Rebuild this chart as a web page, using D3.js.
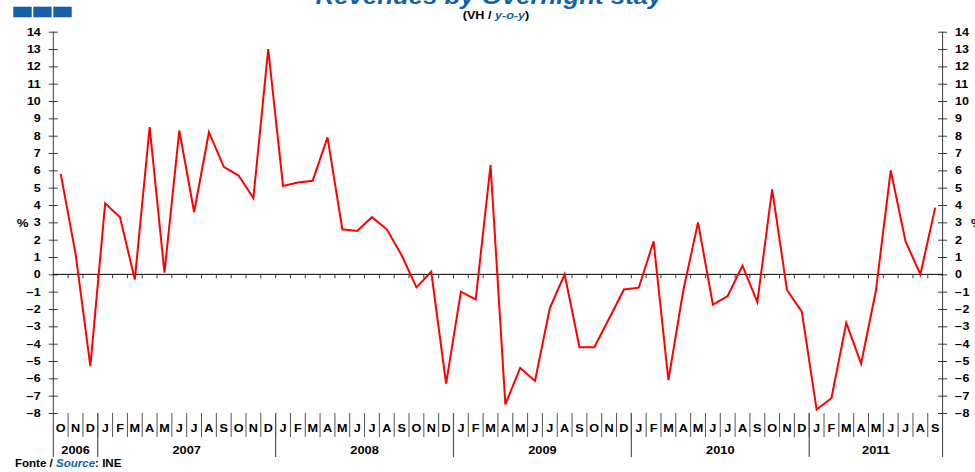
<!DOCTYPE html>
<html>
<head>
<meta charset="utf-8">
<script src="https://cdn.jsdelivr.net/npm/d3@7"></script>
<style>
  html, body { margin: 0; padding: 0; background: #fff; }
  svg { display: block; }
  text { font-family: "Liberation Sans", Arial, sans-serif; font-weight: bold; }
</style>
</head>
<body>
<svg id="chart" width="975" height="472"></svg>
<script>
// Monthly year-on-year change in revenue per overnight stay (%), Oct 2006 – Sep 2011
const monthLetters = [
  "O","N","D",
  "J","F","M","A","M","J","J","A","S","O","N","D",
  "J","F","M","A","M","J","J","A","S","O","N","D",
  "J","F","M","A","M","J","J","A","S","O","N","D",
  "J","F","M","A","M","J","J","A","S","O","N","D",
  "J","F","M","A","M","J","J","A","S"
];
const yearLabels = ["2006", "2007", "2008", "2009", "2010", "2011"];
const monthsPerYear = [3, 12, 12, 12, 12, 9];
const values = [
  5.8, 1.2, -5.3,
  4.1, 3.3, -0.3, 8.5, 0.1, 8.3, 3.6, 8.2, 6.2, 5.7, 4.4, 13.0,
  5.1, 5.3, 5.4, 7.9, 2.6, 2.5, 3.3, 2.6, 1.1, -0.75, 0.15, -6.3,
  -1.0, -1.45, 6.3, -7.5, -5.4, -6.15, -1.95, 0.0, -4.2, -4.2, -2.55, -0.87,
  -0.77, 1.9, -6.1, -0.95, 3.0, -1.75, -1.25, 0.5, -1.6, 4.9, -0.9, -2.15,
  -7.8, -7.15, -2.8, -5.15, -0.95, 6.0, 1.9, 0.0, 3.85
];
const yTicks = d3.range(-8, 15);

const svg = d3.select("#chart");
const blue = "#1560a8";
const axisColor = "#3a3a3a";

const plotLeft = 53.3, plotRight = 942.6, plotTop = 31.7, plotBottom = 413;
const idx = d3.range(values.length);
const x = d3.scaleBand().domain(idx).range([plotLeft, plotRight]).padding(0);
const y = d3.scaleLinear().domain([-8, 14]).range([plotBottom, plotTop]);
const bw = x.bandwidth();

// horizontally stretched text helper
function stext(g, tx, ty, str, size, sx, anchor) {
  return g.append("text")
    .attr("transform", `translate(${tx},${ty}) scale(${sx},1)`)
    .attr("text-anchor", anchor || "start")
    .attr("font-size", size)
    .text(str);
}

// corner badge
[13.3, 33.3, 53.3].forEach(bx => {
  svg.append("rect").attr("x", bx).attr("y", 6.7).attr("width", 18.4).attr("height", 10.6).attr("fill", blue);
});

// title and subtitle
stext(svg, 489, 3.5, "Revenues by Overnight stay", 21.5, 1.2, "middle")
  .attr("font-style", "italic").attr("fill", blue);
const sub = svg.append("text")
  .attr("transform", "translate(496,19) scale(1.2,1)")
  .attr("text-anchor", "middle").attr("font-size", 10.5);
sub.append("tspan").text("(VH / ");
sub.append("tspan").attr("fill", blue).attr("font-style", "italic").text("y-o-y");
sub.append("tspan").text(")");

// y axes
function styleAxis(g, side) {
  g.select(".domain").remove();
  g.selectAll(".tick line").attr("x1", -4.5).attr("x2", 4.5).attr("stroke", axisColor);
  g.selectAll(".tick text")
    .attr("x", null).attr("dy", null)
    .attr("font-size", 10).attr("fill", "#000")
    .attr("text-anchor", side === "left" ? "end" : "start")
    .attr("transform", side === "left" ? "translate(-12.5,3.6) scale(1.25,1)" : "translate(12.5,3.6) scale(1.25,1)");
}
const gl = svg.append("g").attr("transform", `translate(${plotLeft},0)`)
  .call(d3.axisLeft(y).tickValues(yTicks).tickFormat(d3.format("d")));
styleAxis(gl, "left");
const gr = svg.append("g").attr("transform", `translate(${plotRight},0)`)
  .call(d3.axisRight(y).tickValues(yTicks).tickFormat(d3.format("d")));
styleAxis(gr, "right");

// axis spines running down through the category rows
[plotLeft, plotRight].forEach(ax => {
  svg.append("line").attr("x1", ax).attr("x2", ax).attr("y1", plotTop).attr("y2", 457)
    .attr("stroke", axisColor).attr("stroke-width", 1);
});

// unit labels
stext(svg, 22.5, 227, "%", 11, 1.2, "middle");
stext(svg, 971, 227, "%", 11, 1.2, "start");

// zero line with small category ticks
svg.append("line").attr("x1", plotLeft).attr("x2", plotRight).attr("y1", y(0)).attr("y2", y(0))
  .attr("stroke", "#000").attr("stroke-width", 1);
svg.append("g").selectAll("line").data(idx.slice(1)).join("line")
  .attr("x1", d => x(d)).attr("x2", d => x(d))
  .attr("y1", y(0)).attr("y2", y(0) + 4)
  .attr("stroke", axisColor);

// month separators and letters
svg.append("g").selectAll("line").data(idx.slice(1)).join("line")
  .attr("x1", d => x(d)).attr("x2", d => x(d))
  .attr("y1", plotBottom).attr("y2", 437)
  .attr("stroke", "#555").attr("stroke-width", 1);
const gm = svg.append("g");
idx.forEach(i => stext(gm, x(i) + bw / 2, 432, monthLetters[i], 11.5, 1.1, "middle"));

// year separators and labels
let start = 0;
const gy = svg.append("g");
yearLabels.forEach((yr, k) => {
  const n = monthsPerYear[k];
  const x0 = x(start);
  const x1 = start + n < values.length ? x(start + n) : plotRight;
  stext(gy, (x0 + x1) / 2, 453.5, yr, 10.5, 1.22, "middle");
  if (start + n < values.length) {
    gy.append("line").attr("x1", x1).attr("x2", x1).attr("y1", plotBottom).attr("y2", 457)
      .attr("stroke", "#555").attr("stroke-width", 1.2);
  }
  start += n;
});

// series line
const line = d3.line().x((d, i) => x(i) + bw / 2).y(d => y(d));
svg.append("path").datum(values)
  .attr("d", line)
  .attr("fill", "none").attr("stroke", "#ff0000").attr("stroke-width", 2)
  .attr("stroke-linejoin", "miter");

// source note
const src = svg.append("text")
  .attr("transform", "translate(15,466.5) scale(1.1,1)")
  .attr("font-size", 10.5);
src.append("tspan").text("Fonte / ");
src.append("tspan").attr("fill", blue).attr("font-style", "italic").text("Source");
src.append("tspan").text(": INE");
</script>
</body>
</html>
